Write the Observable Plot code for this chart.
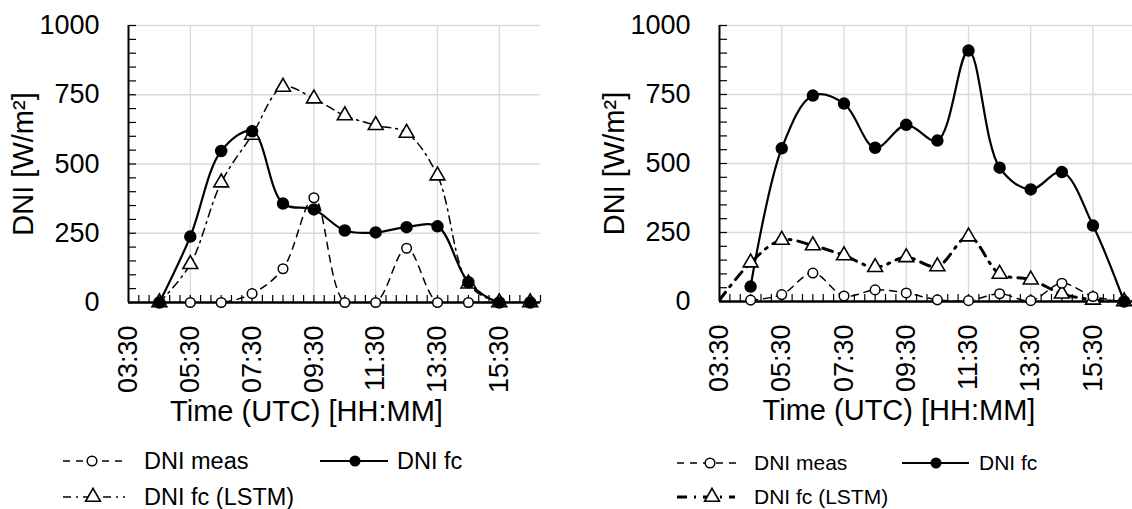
<!DOCTYPE html>
<html><head><meta charset="utf-8">
<script src="https://cdn.jsdelivr.net/npm/d3@7"></script>
<script src="https://cdn.jsdelivr.net/npm/@observablehq/plot@0.6"></script>
<style>
html,body{margin:0;padding:0;background:#fff;}
body{width:1132px;height:509px;overflow:hidden;position:relative;font-family:"Liberation Sans",Arial,sans-serif;}
.panel{position:absolute;top:0;width:566px;height:440px;}
.panel svg{max-width:none !important;}
#legend{position:absolute;left:0;top:440px;}
</style></head><body>
<div id="left" class="panel" style="left:0px"></div>
<div id="right" class="panel" style="left:591px"></div>
<div id="legend"></div>
<script>
// ---------- data ----------
const times = ["04:30","05:30","06:30","07:30","08:30","09:30","10:30","11:30","12:30","13:30","14:30","15:30","16:30"];
const axisStart = "03:30";
const axisEnd = "16:50";
const xTickLabels = ["03:30","05:30","07:30","09:30","11:30","13:30","15:30"];
const yTickValues = [0, 250, 500, 750, 1000];

const leftMeas = [0, 0, 0, 32, 122, 378, 0, 0, 196, 0, 0, 0, 0];
const leftFc   = [0, 238, 547, 618, 357, 336, 260, 253, 272, 275, 73, 0, 0];
const leftLstm = [0, 138, 433, 605, 778, 736, 675, 640, 612, 458, 68, 0, 0];

const rightMeas = [5, 25, 103, 20, 42, 31, 6, 3, 28, 3, 66, 18, 0];
const rightFc   = [54, 555, 746, 717, 557, 640, 583, 909, 485, 406, 469, 275, 0];
const rightLstm = [141, 223, 203, 167, 124, 160, 127, 235, 100, 79, 28, 6, 0];
const rightLstmLeadTime = "03:30";
const rightLstmLeadValue = 5;

const seriesNames = ["DNI meas", "DNI fc", "DNI fc (LSTM)"];
const yTitle = "DNI [W/m²]";
const xTitle = "Time (UTC) [HH:MM]";

// ---------- helpers ----------
const FONT = '"Liberation Sans", Arial, sans-serif';
const toHours = s => { const [h, m] = s.split(":").map(Number); return h + m / 60; };
const fmt = v => { const h = Math.floor(v + 1e-9); const m = Math.round((v - h) * 60); return String(h).padStart(2, "0") + ":" + String(m).padStart(2, "0"); };

const styles = {
  meas: {stroke: "black", strokeWidth: 1.5, strokeDasharray: "7,6"},
  fc: {stroke: "black", strokeWidth: 2.2},
  lstmLeft: {stroke: "black", strokeWidth: 1.5, strokeDasharray: "8,5,2,5"},
  lstmRight: {stroke: "black", strokeWidth: 3, strokeDasharray: "10,7,2,7"}
};

function makeChart({meas, fc, lstm, lstmLead, lstmStyle, zeroY, mR}) {
  const W = 566, H = 440, mL = 128, mT = 25;
  const mB = H - zeroY;
  const fw = W - mL - mR, fh = zeroY - mT;
  const x0 = toHours(axisStart), x1 = toHours(axisEnd);
  const rows = arr => times.map((t, i) => ({x: toHours(t), y: arr[i]}));
  const measRows = rows(meas), fcRows = rows(fc), lstmRows = rows(lstm);
  const lstmLineRows = lstmLead ? [{x: toHours(lstmLead.time), y: lstmLead.value}, ...lstmRows] : lstmRows;
  const xTicks = xTickLabels.map(toHours);
  const xGrid = xTicks.slice(1);
  const xMinor = d3.range(0, 41).map(i => x0 + i / 3);
  const yMinor = d3.range(0, 1001, 50);
  return Plot.plot({
    width: W, height: H, marginLeft: mL, marginRight: mR, marginTop: mT, marginBottom: mB,
    style: {fontFamily: FONT, color: "black", background: "transparent", overflow: "visible", maxWidth: "none"},
    x: {domain: [x0, x1]},
    y: {domain: [0, 1000]},
    marks: [
      Plot.gridY(yTickValues.slice(1), {stroke: "#d9d9d9", strokeOpacity: 1, strokeWidth: 1.3}),
      Plot.gridX(xGrid, {stroke: "#d9d9d9", strokeOpacity: 1, strokeWidth: 1.3}),
      Plot.ruleY(yMinor, {stroke: "black", strokeWidth: 1.2, insetRight: fw - 8}),
      Plot.ruleX(xMinor, {stroke: "black", strokeWidth: 1.2, insetTop: fh - 7}),
      Plot.ruleX([x0], {stroke: "black", strokeWidth: 2}),
      Plot.ruleY([0], {stroke: "black", strokeWidth: 2.5}),
      Plot.axisY(yTickValues, {tickSize: 0, tickPadding: 29, fontSize: 27, tickFormat: d => String(d), label: null}),
      Plot.axisX(xTicks, {tickSize: 0, tickRotate: -90, tickPadding: 23, fontSize: 27, tickFormat: fmt, label: null}),
      Plot.line(measRows, {x: "x", y: "y", curve: "catmull-rom", clip: true, ...styles.meas}),
      Plot.line(lstmLineRows, {x: "x", y: "y", curve: "catmull-rom", clip: true, ...lstmStyle}),
      Plot.line(fcRows, {x: "x", y: "y", curve: "catmull-rom", clip: true, ...styles.fc}),
      Plot.dot(lstmRows, {x: "x", y: "y", symbol: "triangle", r: 5.5, fill: "white", stroke: "black", strokeWidth: 1.6}),
      Plot.dot(measRows, {x: "x", y: "y", symbol: "circle", r: 4.8, fill: "white", stroke: "black", strokeWidth: 1.5}),
      Plot.dot(fcRows, {x: "x", y: "y", symbol: "circle", r: 5.5, fill: "black", stroke: "black"}),
      Plot.text([yTitle], {frameAnchor: "left", textAnchor: "middle", rotate: -90, dx: -105, fontSize: 29, fill: "black"}),
      Plot.text([xTitle], {frameAnchor: "bottom", textAnchor: "middle", dy: 118, dx: -28, fontSize: 29, fill: "black"})
    ]
  });
}

document.getElementById("left").append(makeChart({
  meas: leftMeas, fc: leftFc, lstm: leftLstm, lstmLead: null, lstmStyle: styles.lstmLeft, zeroY: 302, mR: 26
}));
document.getElementById("right").append(makeChart({
  meas: rightMeas, fc: rightFc, lstm: rightLstm,
  lstmLead: {time: rightLstmLeadTime, value: rightLstmLeadValue},
  lstmStyle: styles.lstmRight, zeroY: 301, mR: 23
}));

// ---------- legend ----------
const svg = d3.select("#legend").append("svg").attr("width", 1132).attr("height", 69)
  .style("font-family", FONT);
function applyStyle(sel, st) {
  sel.attr("stroke", st.stroke).attr("stroke-width", st.strokeWidth).attr("fill", "none");
  if (st.strokeDasharray) sel.attr("stroke-dasharray", st.strokeDasharray);
}
function symbol(kind, cx, cy) {
  if (kind === "circleOpen") svg.append("circle").attr("cx", cx).attr("cy", cy).attr("r", 4.8).attr("fill", "white").attr("stroke", "black").attr("stroke-width", 1.5);
  if (kind === "circleFill") svg.append("circle").attr("cx", cx).attr("cy", cy).attr("r", 5.5).attr("fill", "black");
  if (kind === "triangle") svg.append("path").attr("transform", `translate(${cx},${cy})`).attr("d", d3.symbol(d3.symbolTriangle, Math.PI * 5.5 * 5.5)()).attr("fill", "white").attr("stroke", "black").attr("stroke-width", 1.6);
}
function entry({x1, x2, cx, tx, cy, st, kind, label, fs}) {
  applyStyle(svg.append("line").attr("x1", x1).attr("x2", x2).attr("y1", cy).attr("y2", cy), st);
  symbol(kind, cx, cy);
  svg.append("text").attr("x", tx).attr("y", cy).attr("dy", "0.35em").attr("font-size", fs).attr("fill", "black").text(label);
}
// left legend
entry({x1: 63, x2: 123, cx: 92, tx: 144, cy: 21, st: styles.meas, kind: "circleOpen", label: seriesNames[0], fs: 23.5});
entry({x1: 320, x2: 388, cx: 355, tx: 397, cy: 21, st: styles.fc, kind: "circleFill", label: seriesNames[1], fs: 23.5});
entry({x1: 63, x2: 125, cx: 93, tx: 144, cy: 57, st: styles.lstmLeft, kind: "triangle", label: seriesNames[2], fs: 23.5});
// right legend
entry({x1: 677, x2: 741, cx: 710, tx: 754, cy: 23, st: styles.meas, kind: "circleOpen", label: seriesNames[0], fs: 21});
entry({x1: 902, x2: 969, cx: 936, tx: 979, cy: 23, st: styles.fc, kind: "circleFill", label: seriesNames[1], fs: 21});
entry({x1: 677, x2: 735, cx: 712, tx: 754, cy: 57, st: styles.lstmRight, kind: "triangle", label: seriesNames[2], fs: 21});
</script>
</body></html>
